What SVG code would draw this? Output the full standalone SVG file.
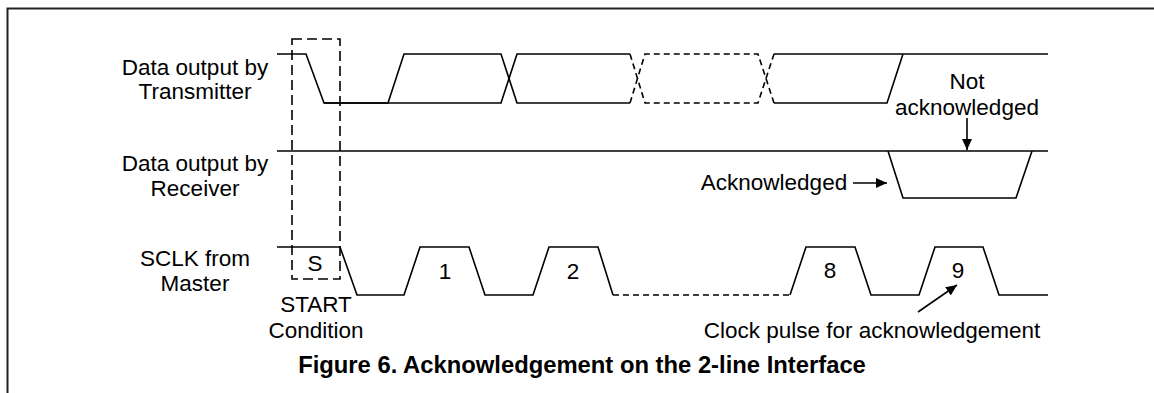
<svg xmlns="http://www.w3.org/2000/svg" width="1154" height="393" viewBox="0 0 1154 393">
<style>
.bg{fill:#fff}
.frame{fill:none;stroke:#222;stroke-width:2}
.w{fill:none;stroke:#000;stroke-width:1.6;stroke-linejoin:miter}
.wd{fill:none;stroke:#000;stroke-width:1.6;stroke-dasharray:6 4}
.box{fill:none;stroke:#000;stroke-width:1.6;stroke-dasharray:10 5}
.t{font-family:"Liberation Sans",Arial,sans-serif;font-size:22.5px;fill:#000;text-anchor:middle}
.cap{font-family:"Liberation Sans",Arial,sans-serif;font-size:23.8px;font-weight:bold;fill:#000;text-anchor:middle}
.arr{fill:none;stroke:#000;stroke-width:1.6}
</style>
<defs>
<marker id="ah" markerUnits="userSpaceOnUse" markerWidth="12" markerHeight="10" refX="11" refY="5" orient="auto">
<path d="M0,0 L11,5 L0,10 Z" fill="#000"/>
</marker>
</defs>
<rect class="bg" x="0" y="0" width="1154" height="393"/>
<g id="frame">
<path class="frame" d="M7.5,393 V8.5 H1154"/>
</g>
<g id="labels">
<text class="t" x="195" y="75">Data output by</text>
<text class="t" x="195" y="99">Transmitter</text>
<text class="t" x="195" y="171">Data output by</text>
<text class="t" x="195" y="196">Receiver</text>
<text class="t" x="195" y="266">SCLK from</text>
<text class="t" x="195" y="291">Master</text>
</g>
<g id="start-condition">
<rect class="box" x="292" y="39" width="48" height="240"/>
<text class="t" x="315" y="271">S</text>
<text class="t" x="316" y="312">START</text>
<text class="t" x="316" y="338">Condition</text>
</g>
<g id="transmitter">
<path class="w" d="M277,54 H306 L324,103 H388 L404,54 H501 L517,103 H630"/>
<path class="w" d="M324,103 H501 L517,54 H630"/>
<path class="wd" d="M630,54 L645,103 H758 L774,54"/>
<path class="wd" d="M630,103 L645,54 H758 L774,103"/>
<path class="w" d="M774,54 H1048"/>
<path class="w" d="M774,103 H887 L903,54"/>
</g>
<g id="receiver">
<path class="w" d="M277,151 H1048"/>
<path class="w" d="M888,151 L903,198 H1016 L1032,151"/>
</g>
<g id="sclk">
<path class="w" d="M277,247 H340 L357,295 H404 L420,247 H469 L485,295 H533 L549,247 H598 L613,295"/>
<path class="wd" d="M613,295 H790"/>
<path class="w" d="M790,295 L806,247 H855 L871,295 H919 L935,247 H983 L999,295 H1048"/>
<text class="t" x="445" y="279">1</text>
<text class="t" x="573" y="279">2</text>
<text class="t" x="830" y="278">8</text>
<text class="t" x="958" y="278">9</text>
</g>
<g id="annotations">
<text class="t" x="967" y="89">Not</text>
<text class="t" x="967" y="115">acknowledged</text>
<text class="t" x="774" y="190">Acknowledged</text>
<text class="t" x="872" y="338">Clock pulse for acknowledgement</text>
</g>
<g id="connectors">
<path class="arr" d="M967,118 V150" marker-end="url(#ah)"/>
<path class="arr" d="M853,183 H887" marker-end="url(#ah)"/>
<path class="arr" d="M918,312 L957,285" marker-end="url(#ah)"/>
</g>
<g id="caption">
<text class="cap" x="582" y="373">Figure 6. Acknowledgement on the 2-line Interface</text>
</g>
</svg>
